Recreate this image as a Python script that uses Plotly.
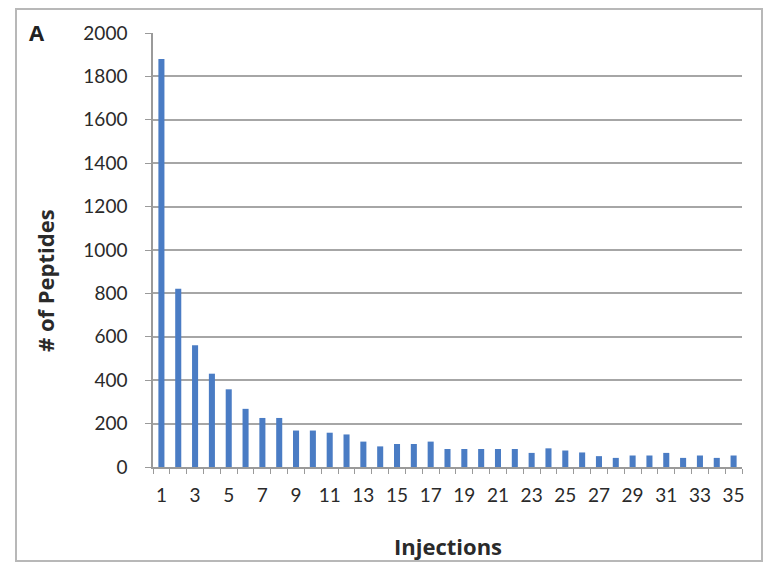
import plotly.graph_objects as go

injections = list(range(1, 36))
peptides = [1880, 822, 561, 430, 358, 268, 226, 226, 168, 168,
            158, 150, 117, 95, 106, 106, 117, 83, 83, 83,
            83, 83, 65, 86, 76, 67, 50, 42, 53, 53,
            65, 42, 53, 42, 53]
x_tick_labels = [str(i) for i in range(1, 36, 2)]
y_tick_vals = list(range(0, 2001, 200))

W, H = 766, 563
L, R, T, B = 153, 24, 33, 96

fig = go.Figure(go.Bar(
    x=injections, y=peptides,
    marker=dict(color="#4a7cc4", line=dict(width=0)),
))

pw = W - L - R
ph = H - T - B
def px(x): return (x - L) / pw
def py(y): return (H - B - y) / ph

tick_font = dict(family="Lato, sans-serif", size=19, color="#2a2a2a")
title_font = dict(family="Open Sans, sans-serif", size=22, color="#2a2a2a")

fig.update_layout(
    width=W, height=H,
    margin=dict(l=L, r=R, t=T, b=B),
    paper_bgcolor="white", plot_bgcolor="white",
    bargap=0.64,
    showlegend=False,
    xaxis=dict(
        range=[0.5, 35.5],
        tickmode="array",
        tickvals=list(range(1, 36, 2)),
        ticktext=x_tick_labels,
        ticks="", showgrid=False,
        showline=True, linecolor="#9a9a9a", linewidth=1.5,
        tickfont=tick_font, ticklabelstandoff=10,
        minor=dict(tickmode="array", tickvals=[i + 0.5 for i in range(0, 36)],
                   ticks="outside", ticklen=5, tickcolor="#9a9a9a", tickwidth=1),
        zeroline=False,
    ),
    yaxis=dict(
        range=[0, 2000],
        tickmode="array", tickvals=y_tick_vals,
        ticks="outside", ticklen=6, tickcolor="#9a9a9a",
        showline=True, linecolor="#9a9a9a", linewidth=1.5,
        showgrid=True, gridcolor="#a6a6a6", gridwidth=2,
        tickfont=tick_font, ticklabelstandoff=14,
        zeroline=False,
    ),
    shapes=[dict(type="rect", xref="paper", yref="paper",
                 x0=px(16), x1=px(762), y0=py(561), y1=py(9),
                 line=dict(color="#b8b8b8", width=2), layer="below")],
    annotations=[
        dict(text="<b>A</b>", xref="paper", yref="paper",
             x=px(27), y=py(15), xanchor="left", yanchor="top",
             showarrow=False, font=dict(family="Open Sans, sans-serif", size=22, color="#222222")),
        dict(text="<b>Injections</b>", xref="paper", yref="paper",
             x=px(448), y=py(546), xanchor="center", yanchor="middle",
             showarrow=False, font=title_font),
        dict(text="<b># of Peptides</b>", xref="paper", yref="paper",
             x=px(45), y=py(281), xanchor="center", yanchor="middle", textangle=-90,
             showarrow=False, font=title_font),
    ],
)

fig.write_html("out.html", config={"displayModeBar": False},
               post_script="document.body.style.margin='0';")
